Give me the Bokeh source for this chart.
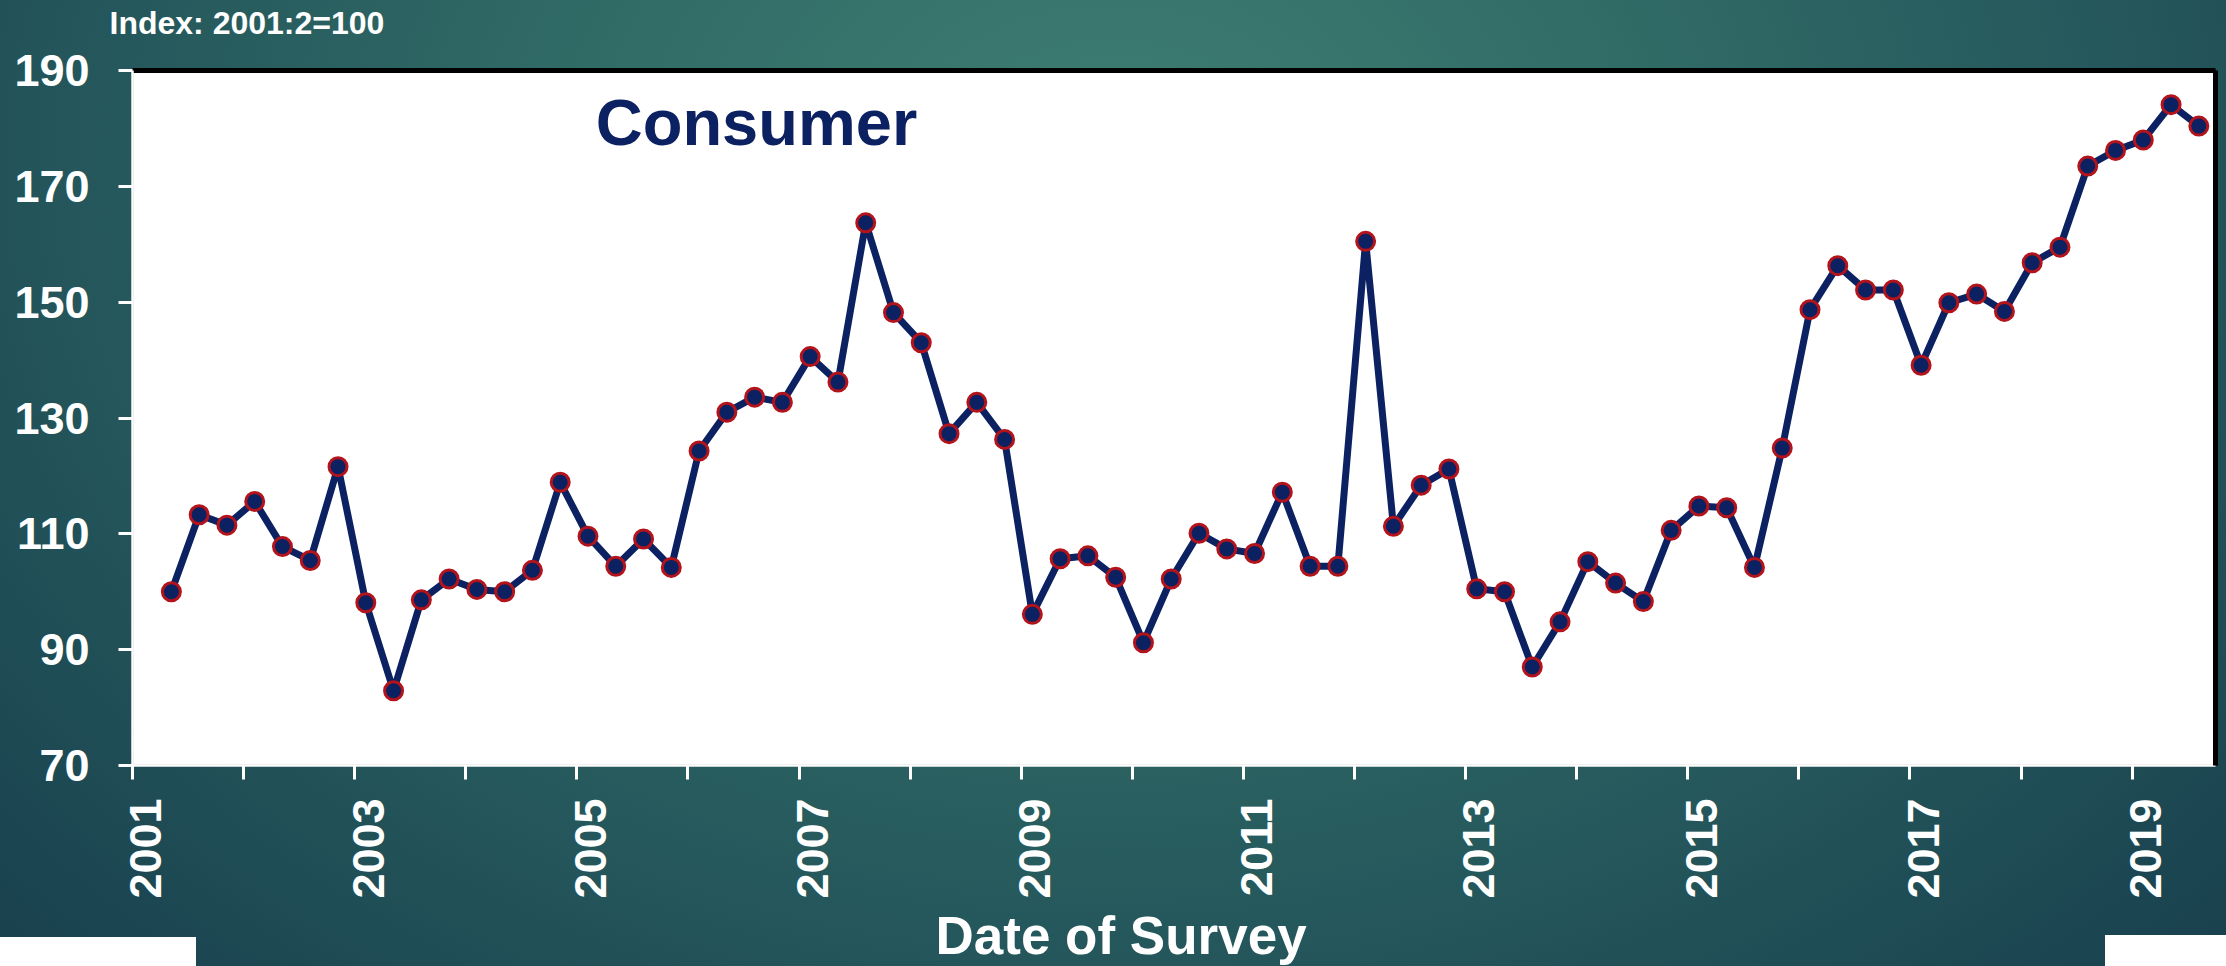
import math
from bokeh.plotting import figure
from bokeh.models import (ColumnDataSource, FixedTicker, LinearAxis, Range1d,
                          Label, Title, CustomJSTickFormatter)
from bokeh.embed import file_html
from bokeh.resources import INLINE

# ---------------- data ----------------
start_year = 2001
start_quarter = 2
index_values = [
    100.0, 113.3, 111.5, 115.6, 107.8, 105.4, 121.6, 98.1, 82.9, 98.6,
    102.2, 100.4, 100.0, 103.7, 118.9, 109.6, 104.4, 109.1, 104.2, 124.3,
    131.0, 133.6, 132.7, 140.6, 136.2, 163.7, 148.2, 143.0, 127.3, 132.7,
    126.3, 96.1, 105.7, 106.2, 102.5, 91.2, 102.2, 110.1, 107.4, 106.6,
    117.2, 104.4, 104.4, 160.5, 111.3, 118.4, 121.2, 100.5, 100.0, 87.0,
    94.8, 105.2, 101.5, 98.3, 110.6, 114.8, 114.5, 104.2, 124.8, 148.7,
    156.3, 152.1, 152.1, 139.1, 149.9, 151.4, 148.4, 156.8, 159.5, 173.5,
    176.2, 178.0, 184.1, 180.4,
]
x_tick_years = list(range(2001, 2020))
x_label_years = [2001, 2003, 2005, 2007, 2009, 2011, 2013, 2015, 2017, 2019]
y_ticks = [70, 90, 110, 130, 150, 170, 190]
title_text = "Consumer"
index_note = "Index: 2001:2=100"
x_axis_title = "Date of Survey"

# survey dates: quarterly, taken early in the middle month of each quarter
dates = []
for i in range(len(index_values)):
    qi = start_quarter - 1 + i
    yr = start_year + qi // 4
    q = qi % 4 + 1
    dates.append(yr + (q - 1) / 4 + 0.1)

source = ColumnDataSource(dict(date=dates, value=index_values))

# ---------------- styling ----------------
NAVY = "#0b2161"
RED = "#b3141c"
FONT = "Liberation Sans"

p = figure(
    width=2226, height=966,
    output_backend="svg", toolbar_location=None,
    x_range=Range1d(2001, 2019.75), y_range=Range1d(70, 190),
    min_border_left=132, min_border_right=11,
    min_border_top=70, min_border_bottom=201,
    background_fill_color="white", border_fill_color=None,
    outline_line_color="black", outline_line_width=1.5,
)
p.grid.visible = False
p.styles = {
    "background": (
        "linear-gradient(#ffffff,#ffffff) left bottom / 196px 29px no-repeat, "
        "linear-gradient(#ffffff,#ffffff) right bottom / 121px 31px no-repeat, "
        "radial-gradient(ellipse 75% 130% at 50% 18%, #3f7f74 0%, #326d67 30%, "
        "#25585c 60%, #1b4551 85%, #163a48 100%)"
    )
}

def style_axis(ax, standoff):
    ax.major_label_text_font = FONT
    ax.major_label_text_font_style = "bold"
    ax.major_label_text_font_size = "45px"
    ax.major_label_text_color = "white"
    ax.major_tick_line_color = "white"
    ax.major_tick_line_width = 3
    ax.major_tick_out = 14
    ax.major_tick_in = 0
    ax.minor_tick_line_color = None
    ax.axis_line_color = "white"
    ax.axis_line_width = 2.5
    ax.major_label_standoff = standoff

# bottom axis: yearly ticks, no labels
xa = p.xaxis[0]
xa.ticker = FixedTicker(ticks=x_tick_years)
xa.major_label_overrides = {y: "" for y in x_tick_years}
style_axis(xa, 0)
xa.major_label_text_font_size = "1px"

# second bottom axis carrying the (rotated) year labels, set slightly right
label_axis = LinearAxis(
    ticker=FixedTicker(ticks=[y + 0.12 for y in x_label_years]),
    formatter=CustomJSTickFormatter(code="return String(Math.round(tick));"),
    major_label_orientation=math.pi / 2,
)
style_axis(label_axis, 19)
label_axis.major_tick_out = 0
label_axis.major_tick_line_color = None
label_axis.axis_line_color = None
p.add_layout(label_axis, "below")

ya = p.yaxis[0]
ya.ticker = FixedTicker(ticks=y_ticks)
style_axis(ya, 29)

# thick black top border; it also carries the index note above the plot
top_axis = LinearAxis(
    ticker=FixedTicker(ticks=[2002.03]),
    formatter=CustomJSTickFormatter(code='return "%s";' % index_note),
    axis_line_color="black", axis_line_width=5,
    major_tick_line_color=None, minor_tick_line_color=None,
    major_tick_out=0, major_tick_in=0, major_label_standoff=30,
    major_label_text_font=FONT, major_label_text_font_style="bold",
    major_label_text_font_size="32px", major_label_text_color="white",
)
p.add_layout(top_axis, "above")

# thick black right border
right_axis = LinearAxis(
    ticker=FixedTicker(ticks=[]),
    axis_line_color="black", axis_line_width=5,
    major_tick_line_color=None, minor_tick_line_color=None,
    major_tick_out=0, major_tick_in=0, major_label_standoff=0,
    major_label_text_font_size="1px",
)
p.add_layout(right_axis, "right")

# x-axis title
p.add_layout(Title(text=x_axis_title, align="left", offset=803,
                   text_font=FONT, text_font_style="bold",
                   text_font_size="53px", text_color="white", standoff=4),
             "below")

# series
p.line("date", "value", source=source, line_color=NAVY, line_width=7)
p.scatter("date", "value", source=source, size=18, fill_color=NAVY,
          line_color=RED, line_width=3)

p.add_layout(Label(x=2005.17, y=181.0, text=title_text, text_font=FONT,
                   text_font_style="bold", text_font_size="65px",
                   text_color=NAVY, text_align="left",
                   text_baseline="alphabetic"))

open("out.html", "w").write(file_html(p, INLINE))
